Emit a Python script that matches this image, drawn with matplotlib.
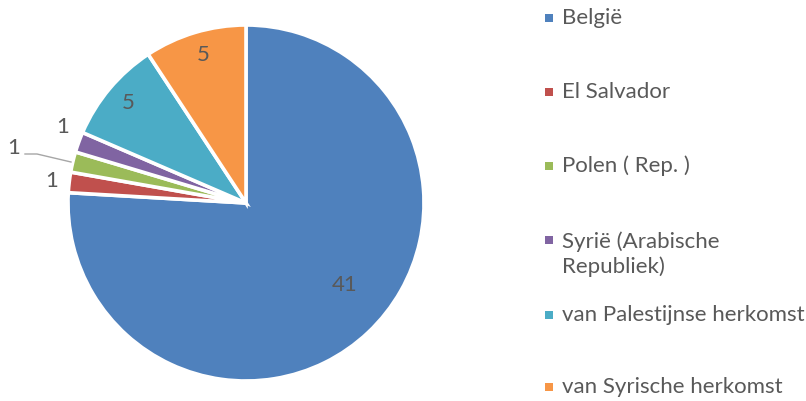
import matplotlib
matplotlib.use("Agg")
import matplotlib.pyplot as plt
from matplotlib.patches import Rectangle

categories = ["België", "El Salvador", "Polen ( Rep. )", "Syrië (Arabische\nRepubliek)",
              "van Palestijnse herkomst", "van Syrische herkomst"]
values = [41, 1, 1, 1, 5, 5]
colors = ["#4F81BD", "#C0504D", "#9BBB59", "#8064A2", "#4BACC6", "#F79646"]

# label positions in pie units (radius = 1)
label_pos = [(0.556, -0.461), (-1.090, 0.124), (-1.303, 0.309), (-1.028, 0.427),
             (-0.663, 0.562), (-0.242, 0.831)]

W, H = 806, 401
fig = plt.figure(figsize=(W / 100, H / 100), dpi=100)
plt.rcParams['font.family'] = ['Lato', 'DejaVu Sans']
txtcol = "#595959"
fs = 16

ax = fig.add_axes([68 / W, (H - 381) / H, 356 / W, 356 / H])
ax.pie(values, colors=colors, startangle=90, counterclock=False, radius=1,
       wedgeprops=dict(edgecolor="white", linewidth=2.6))
ax.set_xlim(-1, 1)
ax.set_ylim(-1, 1)
ax.set_aspect("equal")
ax.axis("off")

for v, (x, y) in zip(values, label_pos):
    ax.text(x, y, str(v), ha="center", va="center", fontsize=fs, color=txtcol,
            clip_on=False)

# leader line for the green slice label
px = lambda x, y: ((x - 246) / 178, (203 - y) / 178)
pts = [px(25, 154), px(37, 154), px(71, 162)]
ax.plot([p[0] for p in pts], [p[1] for p in pts], color="#A6A6A6", lw=1.0, clip_on=False)

# legend (manual)
ys = [18, 92, 166, 254, 315, 387]
mys = [18, 92, 166, 240, 315, 387]
for cat, col, y, my in zip(categories, colors, ys, mys):
    fig.patches.append(Rectangle((545 / W, (H - my - 4) / H), 8 / W, 8 / H,
                                 transform=fig.transFigure, facecolor=col,
                                 edgecolor="none"))
    fig.text(562 / W, (H - y) / H, cat, ha="left", va="center",
             fontsize=fs, color=txtcol, linespacing=1.25)
fig.savefig("out.png", dpi=100)
